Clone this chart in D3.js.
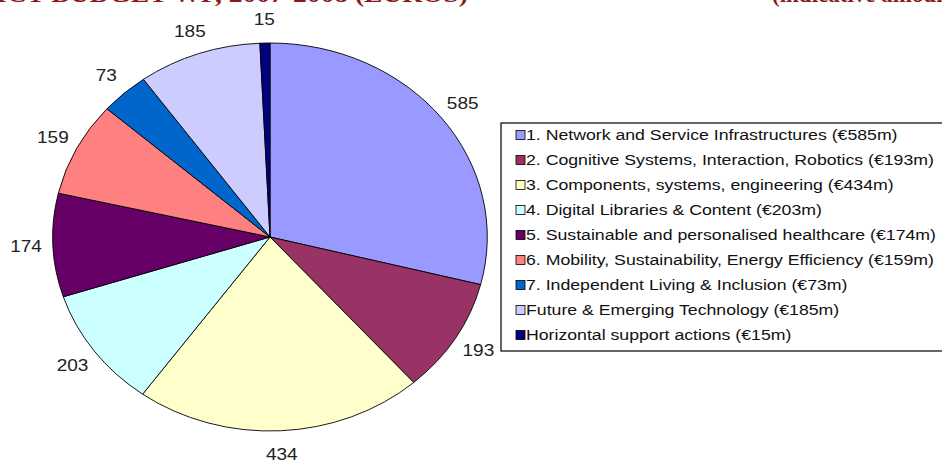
<!DOCTYPE html>
<html>
<head>
<meta charset="utf-8">
<script src="https://cdn.jsdelivr.net/npm/d3@7"></script>
<style>
  html, body { margin: 0; padding: 0; background: #fff; }
  svg { display: block; }
</style>
</head>
<body>
<svg id="chart" width="942" height="460"></svg>
<script>
const categories = [
  "1. Network and Service Infrastructures (€585m)",
  "2. Cognitive Systems, Interaction, Robotics (€193m)",
  "3. Components, systems, engineering (€434m)",
  "4. Digital Libraries & Content (€203m)",
  "5. Sustainable and personalised healthcare (€174m)",
  "6. Mobility, Sustainability, Energy Efficiency (€159m)",
  "7. Independent Living & Inclusion (€73m)",
  "Future & Emerging Technology (€185m)",
  "Horizontal support actions (€15m)"
];
const values = [585, 193, 434, 203, 174, 159, 73, 185, 15];
const colors = ["#9999FF", "#993366", "#FFFFCC", "#CCFFFF", "#660066", "#FF8080", "#0066CC", "#CCCCFF", "#000080"];
const titleLeft = "ICT BUDGET WP, 2007-2008 (EUROS)";
const titleRight = "(indicative amounts)";

const svg = d3.select("#chart");
const cx = 270, cy = 237, r = 194, sx = 1.12;

// cropped title (only the bottom of the glyphs is visible in the reference)
svg.append("text").attr("x", -4).attr("y", 2)
  .attr("font-family", "Liberation Serif, serif").attr("font-weight", "bold")
  .attr("font-size", 23).attr("fill", "#8B1A1A")
  .attr("textLength", 472).attr("lengthAdjust", "spacingAndGlyphs")
  .text(titleLeft);
svg.append("text").attr("x", 772).attr("y", 2)
  .attr("font-family", "Liberation Serif, serif").attr("font-weight", "bold")
  .attr("font-size", 23).attr("fill", "#8B1A1A")
  .text(titleRight);

const data = categories.map((c, i) => ({ name: c, value: values[i], color: colors[i] }));
const pie = d3.pie().value(d => d.value).sort(null);
const arcs = pie(data);
const arc = d3.arc().innerRadius(0).outerRadius(r);
const labelArc = d3.arc().innerRadius(218).outerRadius(218);

const g = svg.append("g").attr("transform", `translate(${cx},${cy}) scale(${sx},1)`);
g.selectAll("path").data(arcs).join("path")
  .attr("d", arc)
  .attr("fill", d => d.data.color)
  .attr("stroke", "#000")
  .attr("stroke-width", 0.9)
  .attr("vector-effect", "non-scaling-stroke");

const lg = svg.append("g");
lg.selectAll("text").data(arcs).join("text")
  .attr("transform", d => {
    const [x, y] = labelArc.centroid(d);
    return `translate(${cx + x * sx},${cy + y}) scale(${sx},1)`;
  })
  .attr("text-anchor", "middle")
  .attr("dominant-baseline", "central")
  .attr("font-family", "Liberation Sans, Arial, sans-serif")
  .attr("font-size", 17)
  .attr("fill", "#222")
  .text(d => d.data.value);

// legend
const legX = 501, legY = 123, legH = 228, rowH = 25;
svg.append("rect").attr("x", legX).attr("y", legY).attr("width", 460).attr("height", legH)
  .attr("fill", "#fff").attr("stroke", "#000").attr("stroke-width", 1.2);
const rows = svg.append("g").selectAll("g").data(data).join("g")
  .attr("transform", (d, i) => `translate(${legX + 15},${legY + 12 + i * rowH})`);
rows.append("rect").attr("x", 0).attr("y", -4.5).attr("width", 9).attr("height", 9)
  .attr("fill", d => d.color).attr("stroke", "#000").attr("stroke-width", 0.8);
rows.append("text").attr("transform", `translate(10,0) scale(1.18,1)`)
  .attr("dominant-baseline", "central")
  .attr("font-family", "Liberation Sans, Arial, sans-serif")
  .attr("font-size", 15)
  .attr("fill", "#111")
  .text(d => d.name);
</script>
</body>
</html>
